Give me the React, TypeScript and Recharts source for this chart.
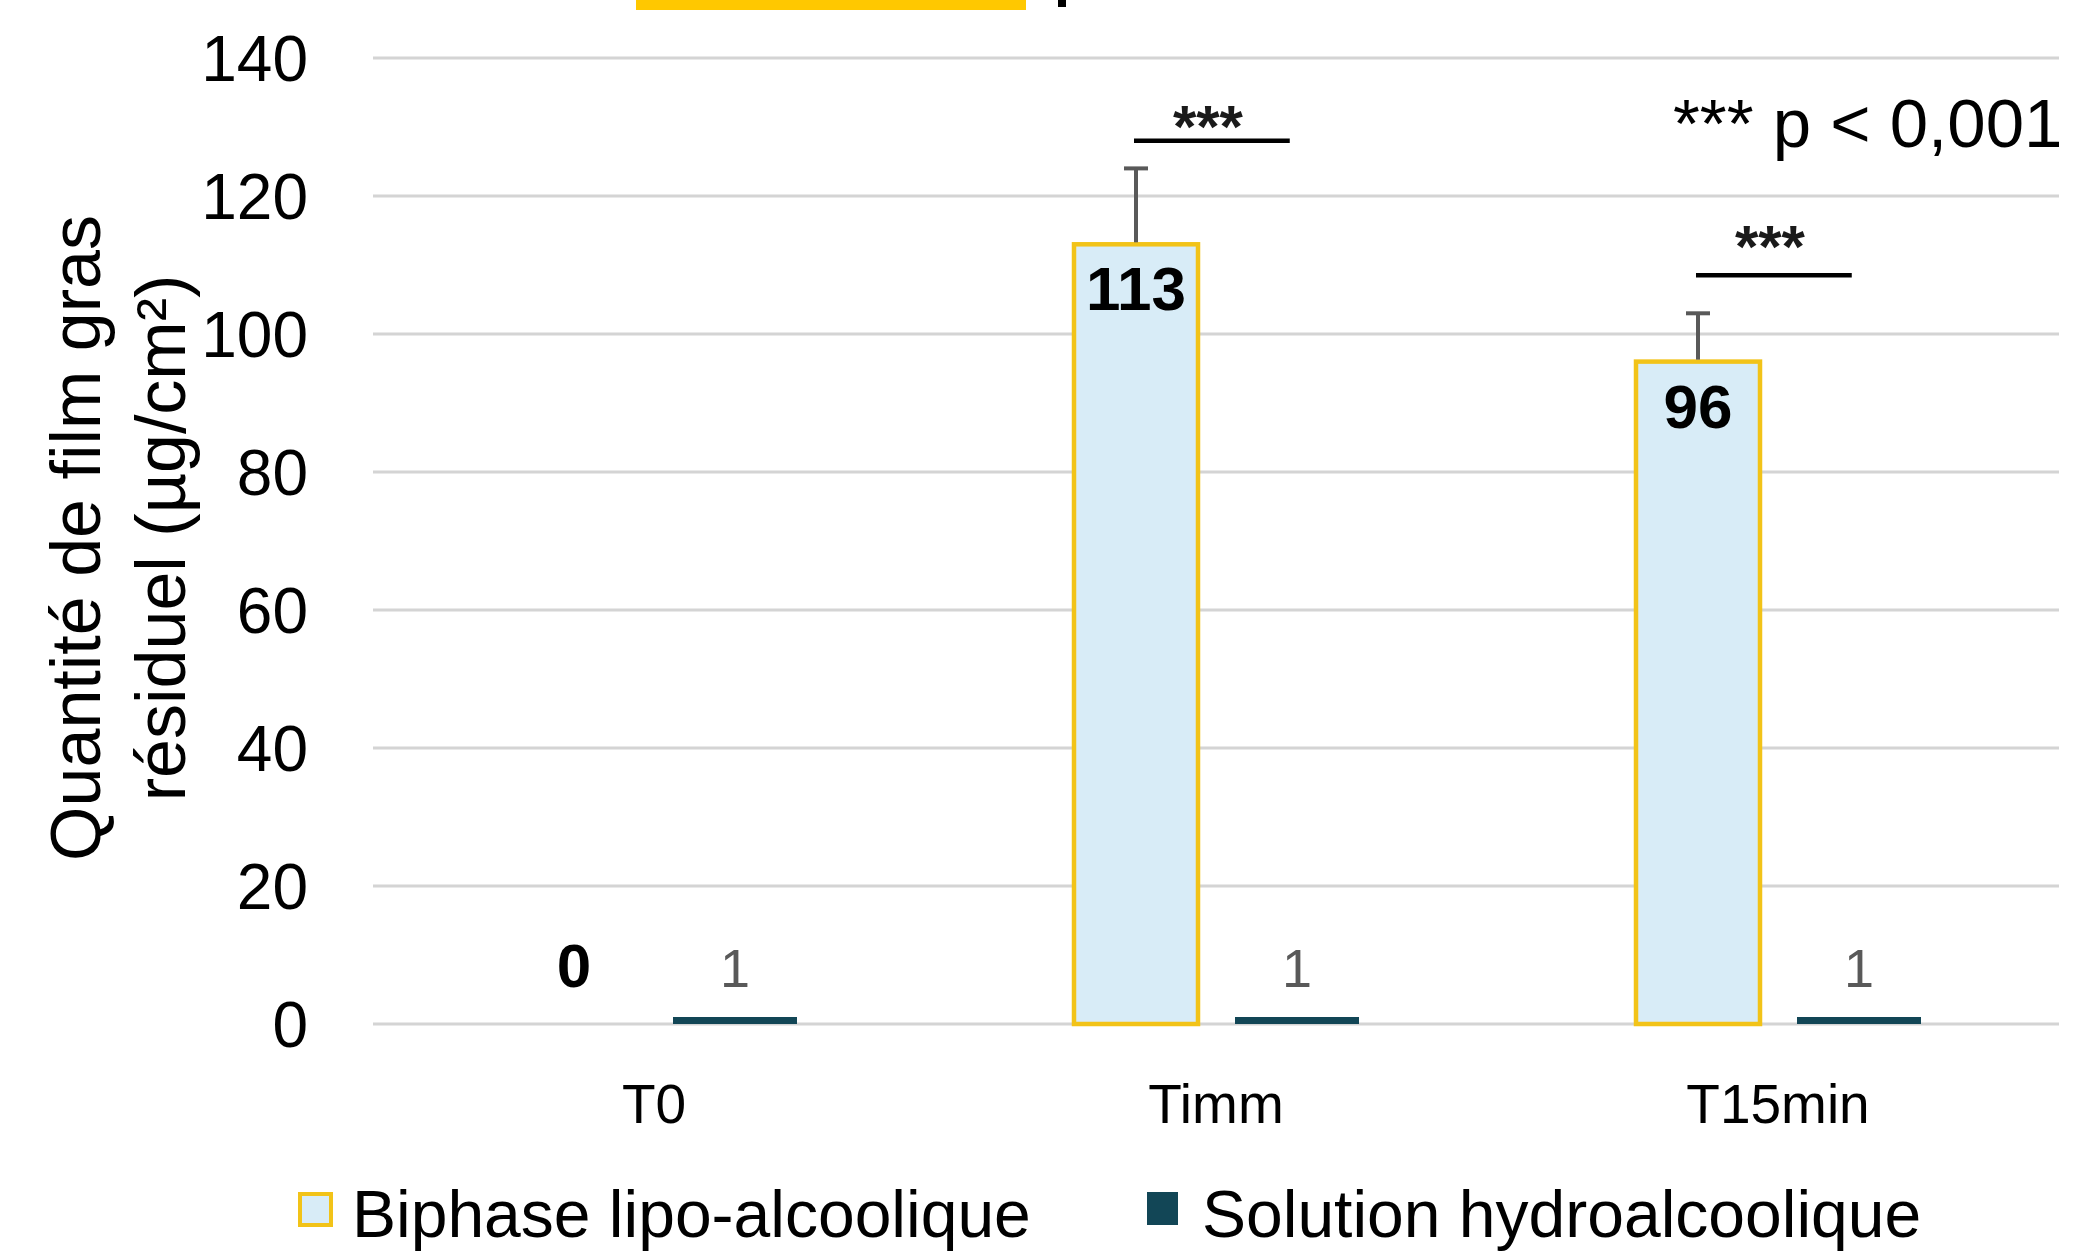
import React from 'react';
import { BarChart, Bar, XAxis, YAxis, CartesianGrid, Legend, LabelList } from 'recharts';

// ---- data ----
const categories = ['T0', 'Timm', 'T15min'];
const biphase = [0, 113, 96];
const solution = [1, 1, 1];
const biphaseErrUpper = [0, 11, 7];
const sigLineValue: (number | null)[] = [null, 128, 108.5];
const sigStarValue: (number | null)[] = [null, 130.7, 113.3];
const yTicks = [0, 20, 40, 60, 80, 100, 120, 140];
const seriesNames = ['Biphase lipo-alcoolique', 'Solution hydroalcoolique'];
const sigLabel = '***';
const noteText = '*** p < 0,001';
const yTitleLines = ['Quantité de film gras', 'résiduel (µg/cm²)'];

const data = categories.map((cat, i) => ({
  cat,
  bi: biphase[i],
  sol: solution[i],
  err: biphaseErrUpper[i],
  sig: sigLineValue[i],
  star: sigStarValue[i],
}));

// ---- style ----
const FONT = "'Liberation Sans', Arial, Helvetica, sans-serif";
const BI_FILL = '#d8ecf7';
const BI_STROKE = '#f2c318';
const SOL_FILL = '#124656';
const ERR_COLOR = '#595959';

const BiphaseShape = (props: any) => {
  const { x, y, width, height, payload } = props;
  const v = payload.bi;
  if (!(v > 0)) return <g />;
  const cx = x + width / 2;
  const base = y + height;
  const unit = height / v;
  const toY = (val: number) => base - val * unit;
  const errTop = toY(v + payload.err);
  return (
    <g>
      <rect x={x} y={y} width={width} height={height} fill={BI_FILL} stroke={BI_STROKE} strokeWidth={4.5} />
      {payload.err > 0 && (
        <g stroke={ERR_COLOR} strokeWidth={4}>
          <line x1={cx} x2={cx} y1={y - 2} y2={errTop} />
          <line x1={cx - 12} x2={cx + 12} y1={errTop} y2={errTop} />
        </g>
      )}
      {payload.sig != null && (
        <g>
          <line x1={cx - 2} x2={cx + width * 1.24} y1={toY(payload.sig)} y2={toY(payload.sig)} stroke="#000" strokeWidth={4.5} />
          <text x={cx + width * 0.58} y={toY(payload.star) + 25} textAnchor="middle" fontSize={60} fontWeight="bold" fill="#1a1a1a" fontFamily={FONT}>
            {sigLabel}
          </text>
        </g>
      )}
    </g>
  );
};

const BiValueLabel = (props: any) => {
  const vb = props.viewBox || props;
  const x = vb.x ?? props.x;
  const y = vb.y ?? props.y;
  const width = vb.width ?? props.width;
  const height = vb.height ?? props.height;
  const raw = Array.isArray(props.value) ? props.value[1] : props.value;
  const v = Number(raw);
  const cx = x + width / 2;
  const base = y + height;
  const ty = v > 0 ? y + 66 : base - 37;
  return (
    <text x={cx} y={ty} textAnchor="middle" fontSize={62} fontWeight="bold" fill="#000" fontFamily={FONT}>
      {v}
    </text>
  );
};

const YTitle = (props: any) => {
  const vb = props.viewBox || { x: 0, y: 58, width: 373, height: 965 };
  const cy = vb.y + vb.height / 2 - 3;
  const x0 = 100;
  return (
    <text
      x={x0}
      y={cy}
      transform={`rotate(-90, ${x0}, ${cy})`}
      textAnchor="middle"
      fontSize={70}
      fill="#000"
      fontFamily={FONT}
    >
      <tspan x={x0} dy={0}>{yTitleLines[0]}</tspan>
      <tspan x={x0} dy={85}>{yTitleLines[1]}</tspan>
    </text>
  );
};

const legendLeft = [298, 1147];
const renderLegend = (props: any) => {
  const payload = props.payload || [];
  return (
    <div style={{ position: 'relative', width: 2076, height: 66, fontFamily: FONT }}>
      {payload.map((p: any, i: number) => {
        const isBi = i === 0;
        return (
          <div key={i}>
            <div
              style={{
                position: 'absolute',
                left: legendLeft[i],
                top: 11,
                width: isBi ? 35 : 31,
                height: isBi ? 35 : 33,
                boxSizing: 'border-box',
                background: isBi ? BI_FILL : SOL_FILL,
                border: isBi ? `4px solid ${BI_STROKE}` : 'none',
              }}
            />
            <div
              style={{
                position: 'absolute',
                left: legendLeft[i] + (isBi ? 54 : 55),
                top: 0,
                fontSize: 66,
                lineHeight: '66px',
                whiteSpace: 'nowrap',
                color: '#000',
              }}
            >
              {p.value}
            </div>
          </div>
        );
      })}
    </div>
  );
};

export default function App() {
  return (
    <div
      style={{
        position: 'absolute',
        left: 0,
        top: 0,
        width: 2076,
        height: 1252,
        overflow: 'hidden',
        background: '#fff',
        fontFamily: FONT,
      }}
    >
      <BarChart
        width={2076}
        height={1252}
        data={data}
        margin={{ top: 58, right: 17, left: 0, bottom: 128 }}
        barSize={124}
        barGap={37}
        style={{ fontFamily: FONT }}
      >
        <CartesianGrid vertical={false} stroke="#d4d4d4" strokeWidth={3} />
        <XAxis
          dataKey="cat"
          axisLine={false}
          tickLine={false}
          tickSize={0}
          tickMargin={60}
          height={100}
          tick={{ fontSize: 55, fill: '#000' }}
        />
        <YAxis
          domain={[0, 140]}
          ticks={yTicks}
          axisLine={false}
          tickLine={false}
          tickSize={0}
          tickMargin={65}
          width={373}
          tick={{ fontSize: 64, fill: '#000' }}
          label={<YTitle />}
        />
        <Legend
          layout="horizontal"
          verticalAlign="middle"
          align="center"
          content={renderLegend}
          wrapperStyle={{ top: 1181, left: 0, width: 2076, height: 66 }}
        />
        <Bar
          dataKey="bi"
          name={seriesNames[0]}
          fill={BI_FILL}
          stroke={BI_STROKE}
          isAnimationActive={false}
          shape={(p: any) => <BiphaseShape {...p} />}
        >
          <LabelList dataKey="bi" content={(p: any) => <BiValueLabel {...p} />} />
        </Bar>
        <Bar dataKey="sol" name={seriesNames[1]} fill={SOL_FILL} isAnimationActive={false}>
          <LabelList dataKey="sol" position="top" offset={30} fill="#595959" fontSize={54} fontFamily={FONT} />
        </Bar>
      </BarChart>
      <div style={{ position: 'absolute', left: 636, top: 0, width: 390, height: 10, background: '#ffc800' }} />
      <div style={{ position: 'absolute', left: 1058, top: 0, width: 8, height: 7, background: '#000' }} />
      <div
        style={{
          position: 'absolute',
          left: 1673,
          top: 89,
          fontSize: 69,
          lineHeight: '69px',
          whiteSpace: 'nowrap',
          color: '#000',
          fontFamily: FONT,
        }}
      >
        {noteText}
      </div>
    </div>
  );
}
